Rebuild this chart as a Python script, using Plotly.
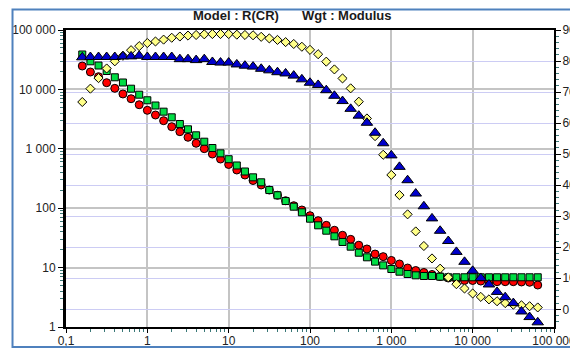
import plotly.graph_objects as go

# Frequencies (Hz), 10 points per decade
freq = [0.1585, 0.1995, 0.2512, 0.3162, 0.3981, 0.5012, 0.631, 0.7943, 1.0, 1.259,
        1.585, 1.995, 2.512, 3.162, 3.981, 5.012, 6.31, 7.943, 10.0, 12.59,
        15.85, 19.95, 25.12, 31.62, 39.81, 50.12, 63.1, 79.43, 100.0, 125.9,
        158.5, 199.5, 251.2, 316.2, 398.1, 501.2, 631.0, 794.3, 1000.0, 1259.0,
        1585.0, 1995.0, 2512.0, 3162.0, 3981.0, 5012.0, 6310.0, 7943.0, 10000.0, 12590.0,
        15850.0, 19950.0, 25120.0, 31620.0, 39810.0, 50120.0, 63100.0]

# Red circles (left axis, log)
red_vals = [24770, 19630, 16370, 12970, 10420, 8375, 6966, 5521, 4446, 3707,
            2972, 2355, 1941, 1563, 1239, 1005, 816.6, 673, 544.5, 439.5,
            362.2, 292.4, 246, 202.3, 164.8, 133.7, 110.2, 93.3, 74.8, 61.7,
            51.5, 42.5, 35.0, 29.9, 23.8, 20.6, 16.9, 15.3, 13.2, 11.5,
            9.84, 8.93, 8.28, 7.66, 7.08, 6.68, 6.31, 6.07, 6.07, 5.94,
            5.83, 5.79, 5.79, 5.79, 5.73, 5.66, 5.09]

# Green squares (left axis, log)
green_vals = [38730, 29720, 25240, 20400, 15990, 13070, 10280, 8147, 6561, 5358,
              4217, 3390, 2616, 2129, 1687, 1317, 1031, 839, 668, 524,
              415, 331, 273, 202, 165, 132, 106, 85.3, 66.6, 51.5,
              41.8, 33.6, 27.0, 22.5, 17.8, 14.9, 12.6, 10.9, 9.47, 8.53,
              7.80, 7.41, 7.22, 7.22, 7.03, 6.87, 6.87, 6.87, 6.87, 6.87,
              6.87, 6.87, 6.87, 6.87, 6.87, 6.87, 6.87]

# Yellow diamonds (right axis)
yellow_vals = [66.8, 71.1, 74.5, 77.6, 79.9, 81.7, 83.5, 84.8, 85.8, 86.3,
               86.9, 87.5, 87.9, 88.2, 88.4, 88.6, 88.7, 88.7, 88.7, 88.5,
               88.4, 88.3, 87.8, 87.3, 86.8, 86.1, 85.5, 84.6, 83.6, 82.2,
               79.8, 77.3, 74.4, 71.2, 66.9, 61.5, 55.8, 49.8, 43.3, 36.8,
               30.6, 25.1, 20.4, 16.4, 13.1, 10.3, 8.1, 6.7, 5.1, 4.0,
               3.2, 2.6, 2.0, 1.5, 1.3, 1.0, 0.6]

# Blue triangles (right axis)
blue_vals = [81.2, 81.3, 81.3, 81.3, 81.3, 81.5, 81.5, 81.7, 81.3, 81.3,
             81.3, 81.3, 80.6, 80.6, 80.3, 80.6, 79.7, 79.5, 79.5, 78.9,
             78.5, 78.2, 77.5, 77.0, 76.4, 76.0, 75.3, 74.1, 73.0, 72.3,
             70.6, 68.8, 67.1, 64.6, 62.4, 60.1, 56.9, 53.5, 49.6, 45.9,
             41.6, 37.3, 33.2, 29.3, 25.3, 22.0, 18.5, 15.3, 12.4, 10.1,
             8.0, 5.6, 3.9, 2.0, -0.7, -2.5, -4.2]

title_left = "Model : R(CR)"
title_right = "Wgt : Modulus"

FONT = "Liberation Sans, Arial, sans-serif"
outline = dict(color="#000000", width=1)

fig = go.Figure()
fig.add_trace(go.Scatter(x=freq, y=red_vals, mode="markers", yaxis="y",
                         marker=dict(symbol="circle", size=8, color="#FF0000", line=outline)))
fig.add_trace(go.Scatter(x=freq, y=green_vals, mode="markers", yaxis="y",
                         marker=dict(symbol="square", size=7, color="#00DD44", line=outline)))
fig.add_trace(go.Scatter(x=freq, y=yellow_vals, mode="markers", yaxis="y2",
                         marker=dict(symbol="diamond", size=7, color="#FFFF88", line=outline)))
fig.add_trace(go.Scatter(x=freq, y=blue_vals, mode="markers", yaxis="y2",
                         marker=dict(symbol="triangle-up", size=10, color="#0000CC", line=outline)))

tickfont = dict(family=FONT, size=12, color="#222222")
minor_teal = "#3A7878"

fig.update_layout(
    width=570, height=349,
    margin=dict(l=66, r=16, t=30, b=22, autoexpand=False),
    paper_bgcolor="white", plot_bgcolor="white",
    showlegend=False,
    separators=", ",
    xaxis=dict(type="log", range=[-1, 5], dtick=1, tickformat=",", automargin=False,
               showgrid=True, gridcolor="#C4C4C4", gridwidth=1.5,
               ticks="outside", ticklen=4, tickcolor="#000000", tickwidth=1,
               ticklabelstandoff=-2, ticklabeloverflow="allow",
               showline=True, linecolor="#000000", linewidth=2, mirror=True,
               tickfont=tickfont, zeroline=False,
               minor=dict(ticks="outside", ticklen=3, tickcolor=minor_teal, dtick="D1", showgrid=False)),
    yaxis=dict(type="log", range=[0, 5], dtick=1, tickformat=",", automargin=False,
               showgrid=True, gridcolor="#C4C4C4", gridwidth=1.5,
               ticks="outside", ticklen=5, tickcolor="#000000", tickwidth=1,
               ticklabeloverflow="allow",
               showline=True, linecolor="#000000", linewidth=3,
               tickfont=tickfont, zeroline=False,
               minor=dict(ticks="outside", ticklen=3, tickcolor=minor_teal, dtick="D1", showgrid=False)),
    yaxis2=dict(overlaying="y", side="right", range=[-5.7, 90], dtick=10, tick0=0, automargin=False,
                showgrid=True, gridcolor="#CCCCF4", gridwidth=1,
                ticks="outside", ticklen=5, tickcolor="#000000", tickwidth=1,
                ticklabelstandoff=-1, ticklabeloverflow="allow",
                showline=True, linecolor="#000000", linewidth=2,
                tickfont=tickfont, zeroline=False,
                minor=dict(ticks="outside", ticklen=3, tickcolor=minor_teal, dtick=2, showgrid=False)),
    shapes=[dict(type="rect", xref="paper", yref="paper",
                 x0=-0.1096, x1=1.08, y0=-0.0673, y1=1.069,
                 line=dict(color="#4F81BD", width=2), fillcolor="rgba(0,0,0,0)", layer="above")],
    annotations=[
        dict(text="<b>" + title_left + "</b>", xref="paper", yref="paper", x=0.348, y=1.0505,
             xanchor="center", yanchor="middle", showarrow=False,
             font=dict(family=FONT, size=13, color="#1a1a1a")),
        dict(text="<b>" + title_right + "</b>", xref="paper", yref="paper", x=0.575, y=1.0505,
             xanchor="center", yanchor="middle", showarrow=False,
             font=dict(family=FONT, size=13, color="#1a1a1a")),
    ],
)

fig.write_html("out.html")
